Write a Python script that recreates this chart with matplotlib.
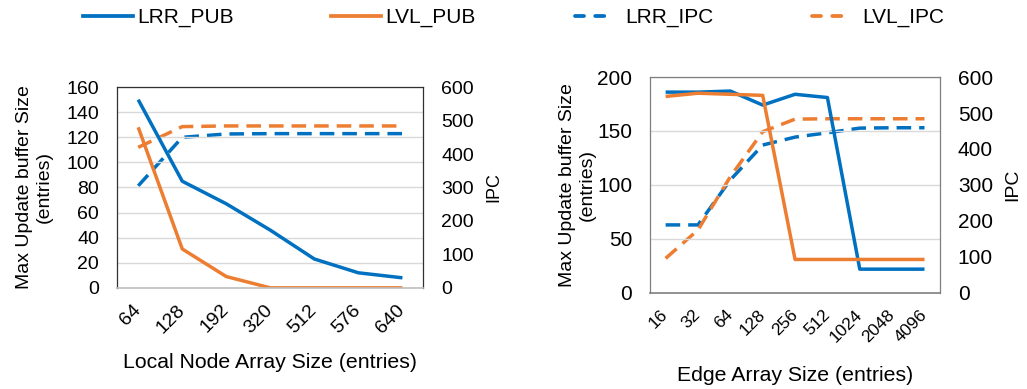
import numpy as np
import matplotlib.pyplot as plt
from matplotlib.lines import Line2D

plt.rcParams['font.family'] = ['Liberation Sans', 'DejaVu Sans']
plt.rcParams['font.size'] = 14

BLUE = '#0070C0'
ORANGE = '#ED7D31'

# left chart: local node array size
node_sizes = ['64', '128', '192', '320', '512', '576', '640']
node_lrr_pub = [150, 85, 67, 46, 23, 12, 8]
node_lvl_pub = [128, 31, 9, 0, 0, 0, 0]
node_lrr_ipc = [305, 450, 460, 461, 461, 461, 461]
node_lvl_ipc = [420, 482, 484, 484, 484, 484, 484]

# right chart: edge array size
edge_sizes = ['16', '32', '64', '128', '256', '512', '1024', '2048', '4096']
edge_lrr_pub = [186, 186, 187, 174, 184, 181, 22, 22, 22]
edge_lvl_pub = [182, 185, 184, 183, 31, 31, 31, 31, 31]
edge_lrr_ipc = [189, 189, 314, 411, 433, 445, 458, 459, 459]
edge_lvl_ipc = [96, 175, 323, 448, 483, 484, 484, 484, 484]

LW = 2.5

fig = plt.figure(figsize=(10.27, 3.89), dpi=100)

def panel(rect, cats, lrr_pub, lvl_pub, lrr_ipc, lvl_ipc, ymax, ystep, xlabel,
          yfs, xfs, labfs, ylabfs, ipcfs, frame, ylpad, xlpad, ipcpad):
    ax = fig.add_axes(rect)
    x = np.arange(len(cats))
    ax.plot(x, lrr_pub, color=BLUE, lw=LW, solid_capstyle='butt')
    ax.plot(x, lvl_pub, color=ORANGE, lw=LW, solid_capstyle='butt')
    ax.set_ylim(0, ymax)
    ax.set_yticks(np.arange(0, ymax + 1, ystep))
    ax.set_xlim(-0.48, len(cats) - 0.53)
    ax.set_xticks(x)
    ax.set_xticklabels(cats, rotation=45, ha='right', va='center',
                       rotation_mode='anchor', fontsize=xfs)
    ax.yaxis.grid(True, color='#D9D9D9', lw=1)
    ax.set_axisbelow(True)
    ax.tick_params(axis='both', length=0)
    ax.tick_params(axis='y', pad=13, labelsize=yfs)
    ax.tick_params(axis='x', pad=14)
    for s in ['left', 'right', 'top']:
        ax.spines[s].set_color(frame)
        ax.spines[s].set_linewidth(0.9)
    ax.spines['bottom'].set_color('#BFBFBF' if frame == '#303030' else frame)
    ax.spines['bottom'].set_linewidth(1.2)
    ax.set_ylabel('Max Update buffer Size\n(entries)', labelpad=ylpad,
                  linespacing=1.2, fontsize=ylabfs)
    ax.set_xlabel(xlabel, labelpad=xlpad, fontsize=labfs)

    ax2 = ax.twinx()
    ax2.plot(x, lrr_ipc, color=BLUE, lw=LW, dashes=(4.2, 2.3))
    ax2.plot(x, lvl_ipc, color=ORANGE, lw=LW, dashes=(4.2, 2.3))
    ax2.set_ylim(0, 600)
    ax2.set_yticks(np.arange(0, 601, 100))
    ax2.tick_params(axis='y', length=0, pad=13, labelsize=yfs)
    for s in ax2.spines.values():
        s.set_visible(False)
    ax2.set_ylabel('IPC', labelpad=ipcpad, fontsize=ipcfs)
    ax.set_zorder(ax2.get_zorder() + 1)
    ax.patch.set_visible(False)
    return ax

panel([0.114, 0.26, 0.298, 0.516], node_sizes, node_lrr_pub, node_lvl_pub,
      node_lrr_ipc, node_lvl_ipc, 160, 20, 'Local Node Array Size (entries)',
      14, 14, 15.3, 14, 13, '#303030', 10, 12, 8)
panel([0.633, 0.247, 0.282, 0.555], edge_sizes, edge_lrr_pub, edge_lvl_pub,
      edge_lrr_ipc, edge_lvl_ipc, 200, 50, 'Edge Array Size (entries)',
      15, 12.5, 15.3, 14, 14, '#7F7F7F', 1, 15, 8)

# legend, one entry at a time so each sits where the reference has it
legend_labels = ['LRR_PUB', 'LVL_PUB', 'LRR_IPC', 'LVL_IPC']
legend_x = [83, 331, 575, 812]
handles = [
    Line2D([], [], color=BLUE, lw=2.7),
    Line2D([], [], color=ORANGE, lw=2.7),
    Line2D([], [], color=BLUE, lw=2.7, dashes=(2.4, 3.0), dash_capstyle='round'),
    Line2D([], [], color=ORANGE, lw=2.7, dashes=(2.4, 3.0), dash_capstyle='round'),
]
for i in range(4):
    solid = i < 2
    fig.legend([handles[i]], [legend_labels[i]], loc='center left',
               bbox_to_anchor=(legend_x[i] / 1027, 0.955), frameon=False,
               borderpad=0, borderaxespad=0, fontsize=15,
               handlelength=2.4 if solid else 1.8,
               handletextpad=0.2 if solid else 0.6)

fig.savefig('out.png', dpi=100)
